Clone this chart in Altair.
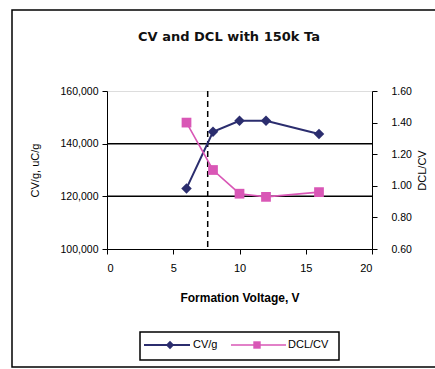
import altair as alt
import pandas as pd

# ---- data ----
voltage = [6, 8, 10, 12, 16]
cv_per_g = [123000, 144500, 148700, 148700, 143700]
dcl_cv = [1.40, 1.10, 0.95, 0.93, 0.96]
grid_cv = [120000, 140000]
marker_voltage = [7.6]
series_names = ["CV/g", "DCL/CV"]
chart_title = ["CV and DCL with 150k Ta"]

NAVY = "#2b2d6e"
MAGENTA = "#d957b6"
FONT = "Liberation Sans"

df = pd.DataFrame({"v": voltage, "cv": cv_per_g, "dcl": dcl_cv})
grid_df = pd.DataFrame({"cv": grid_cv})
vline_df = pd.DataFrame({"v": marker_voltage})

xscale = alt.Scale(domain=[0, 20], nice=False)
x_axis = alt.Axis(values=[0, 5, 10, 15, 20], title="Formation Voltage, V",
                  titleFont=FONT, titleFontSize=12, titleFontWeight="bold",
                  titleY=48, titleBaseline="middle",
                  labelFont=FONT, labelFontSize=11, labelPadding=8,
                  tickSize=5, domainColor="black", tickColor="black",
                  labelColor="black", titleColor="black", grid=False)

left_scale = alt.Scale(domain=[100000, 160000], nice=False, zero=False)
left_axis = alt.Axis(values=[100000, 120000, 140000, 160000], format=",d",
                     title="CV/g, uC/g", titleFont=FONT, titleFontSize=11,
                     titleFontWeight="normal", titleX=-72, titleY=79,
                     titleBaseline="middle", titleAngle=270,
                     labelFont=FONT, labelFontSize=10.5, labelPadding=4,
                     tickSize=5, domainColor="black", tickColor="black",
                     labelColor="black", titleColor="black", grid=False)

right_scale = alt.Scale(domain=[0.6, 1.6], nice=False, zero=False)
right_axis = alt.Axis(orient="right", values=[0.6, 0.8, 1.0, 1.2, 1.4, 1.6],
                      format=".2f", title="DCL/CV", titleFont=FONT,
                      titleFontSize=11, titleFontWeight="normal",
                      titleX=50, titleY=79, titleBaseline="middle",
                      titleAngle=270, labelFont=FONT, labelFontSize=10.5,
                      labelPadding=14, tickSize=5, domainColor="black",
                      tickColor="black", labelColor="black",
                      titleColor="black", grid=False)

X = alt.X("v:Q", scale=xscale, axis=x_axis)

grid = alt.Chart(grid_df).mark_rule(color="black", strokeWidth=1.5).encode(
    y=alt.Y("cv:Q", scale=left_scale, axis=left_axis))
vline = alt.Chart(vline_df).mark_rule(color="black", strokeWidth=1.5,
                                      strokeDash=[6, 4]).encode(x=X)
cv_line = alt.Chart(df).mark_line(color=NAVY, strokeWidth=2).encode(
    x=X, y=alt.Y("cv:Q", scale=left_scale, axis=left_axis))
cv_pts = alt.Chart(df).mark_point(shape="diamond", filled=True, color=NAVY,
                                  size=110, opacity=1).encode(
    x=X, y=alt.Y("cv:Q", scale=left_scale, axis=left_axis))
left = alt.layer(grid, vline, cv_line, cv_pts)

dcl_line = alt.Chart(df).mark_line(color=MAGENTA, strokeWidth=1.6).encode(
    x=X, y=alt.Y("dcl:Q", scale=right_scale, axis=right_axis))
dcl_pts = alt.Chart(df).mark_point(shape="square", filled=True, color=MAGENTA,
                                   size=95, opacity=1).encode(
    x=X, y=alt.Y("dcl:Q", scale=right_scale, axis=right_axis))
right = alt.layer(dcl_line, dcl_pts)

# ---- outer frame, title and legend (decoration, pixel positions) ----
one = pd.DataFrame({"k": [0]})
frame = alt.Chart(one).mark_rect(fill=None, stroke="black", strokeWidth=1.5).encode(
    x=alt.value(-95), x2=alt.value(400), y=alt.value(-81), y2=alt.value(276))
title = alt.Chart(pd.DataFrame({"t": chart_title})).mark_text(
    align="center", baseline="middle", font="DejaVu Sans", fontSize=13,
    fontWeight="bold", color="#111111").encode(
    x=alt.value(122), y=alt.value(-54), text="t:N")
leg_box = alt.Chart(one).mark_rect(fill="white", stroke="black", strokeWidth=1.5).encode(
    x=alt.value(33), x2=alt.value(232), y=alt.value(241), y2=alt.value(269))
LY = 254
leg_l1 = alt.Chart(one).mark_rule(color=NAVY, strokeWidth=2).encode(
    x=alt.value(37), x2=alt.value(83), y=alt.value(LY))
leg_p1 = alt.Chart(one).mark_point(shape="diamond", filled=True, color=NAVY,
                                   size=70, opacity=1).encode(
    x=alt.value(63), y=alt.value(LY))
leg_t1 = alt.Chart(pd.DataFrame({"s": [series_names[0]]})).mark_text(
    align="left", baseline="middle", font=FONT, fontSize=11, color="black").encode(
    x=alt.value(86), y=alt.value(LY), text="s:N")
leg_l2 = alt.Chart(one).mark_rule(color=MAGENTA, strokeWidth=1.6).encode(
    x=alt.value(124), x2=alt.value(179), y=alt.value(LY))
leg_p2 = alt.Chart(one).mark_point(shape="square", filled=True, color=MAGENTA,
                                   size=55, opacity=1).encode(
    x=alt.value(150), y=alt.value(LY))
leg_t2 = alt.Chart(pd.DataFrame({"s": [series_names[1]]})).mark_text(
    align="left", baseline="middle", font=FONT, fontSize=11, color="black").encode(
    x=alt.value(181), y=alt.value(LY), text="s:N")

chart = alt.layer(
    left, right, frame, title, leg_box, leg_l1, leg_p1, leg_t1,
    leg_l2, leg_p2, leg_t2
).resolve_scale(y="independent").properties(
    width=265, height=158,
    autosize=alt.AutoSizeParams(type="none"),
    padding={"left": 107, "top": 91, "right": 63, "bottom": 120},
).configure_view(
    fill="#dbd9e1", stroke="#9a9aa0", strokeWidth=1
).configure(background="white")

chart.save("out.html", embed_options={"renderer": "svg", "actions": False})
